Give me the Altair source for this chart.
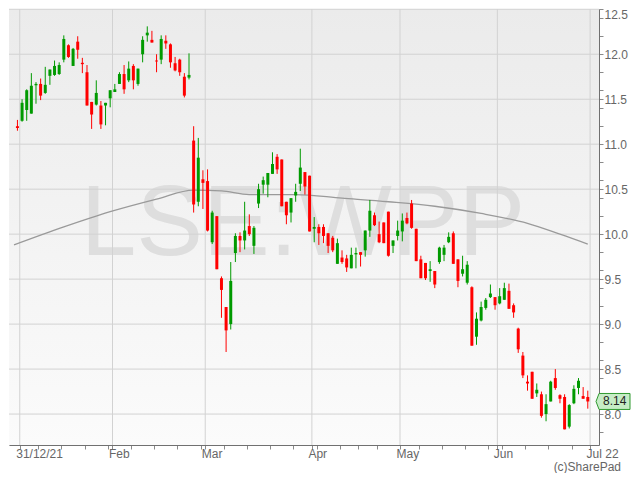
import altair as alt
import pandas as pd

# ---- data (LSE:WPP daily candles, 31/12/21 - 30/06/22) ----
opens = [11.20, 11.26, 11.38, 11.34, 11.655, 11.67, 11.57, 11.76, 11.77, 11.78,
         11.94, 12.10, 11.87, 12.14, 11.905, 11.80, 11.47, 11.44, 11.43, 11.43,
         11.51, 11.58, 11.67, 11.78, 11.71, 11.87, 11.67, 12.00, 12.21, 12.16,
         11.93, 11.94, 12.15, 12.11, 11.90, 11.94, 11.75, 11.74, 11.04, 10.36,
         10.61, 10.59, 9.91, 10.20, 9.51, 9.19, 9.00, 9.79, 9.98, 9.93,
         10.09, 9.87, 10.34, 10.55, 10.55, 10.67, 10.86, 10.83, 10.36, 10.24,
         10.43, 10.56, 10.69, 10.65, 10.06, 10.08, 10.08, 10.01, 9.96, 9.67,
         9.74, 9.73, 9.62, 9.775, 9.80, 9.82, 10.04, 10.21, 10.00, 10.13,
         10.25, 9.87, 9.98, 10.03, 10.18, 10.34, 10.06, 9.72, 9.68, 9.59,
         9.59, 9.69, 9.77, 9.91, 10.01, 9.72, 9.56, 9.46, 9.41, 8.86,
         9.04, 9.18, 9.30, 9.30, 9.23, 9.27, 9.37, 9.21, 8.95, 8.65,
         8.36, 8.47, 8.23, 8.22, 8.00, 8.14, 8.40, 8.21, 8.19, 7.86,
         8.12, 8.29, 8.20, 8.19]
highs = [11.27, 11.50, 11.61, 11.79, 11.69, 11.73, 11.86, 11.83, 11.93, 11.91,
         12.21, 12.11, 12.07, 12.20, 11.96, 11.88, 11.47, 11.71, 11.48, 11.46,
         11.60, 11.67, 11.80, 11.88, 11.92, 11.89, 11.84, 12.20, 12.31, 12.26,
         12.00, 12.21, 12.21, 12.12, 11.97, 11.95, 11.79, 12.01, 11.20, 11.07,
         10.71, 10.72, 10.26, 10.20, 9.53, 9.19, 9.69, 10.01, 10.02, 10.36,
         10.22, 10.09, 10.56, 10.64, 10.68, 10.91, 10.89, 10.83, 10.36, 10.40,
         10.56, 10.95, 10.69, 10.65, 10.19, 10.11, 10.11, 10.01, 9.98, 9.95,
         9.82, 9.77, 9.85, 9.85, 9.80, 10.04, 10.38, 10.24, 10.14, 10.13,
         10.25, 9.93, 10.15, 10.23, 10.24, 10.38, 10.06, 9.76, 9.68, 9.70,
         9.59, 9.86, 9.88, 10.02, 10.03, 9.72, 9.76, 9.70, 9.42, 9.13,
         9.25, 9.29, 9.44, 9.30, 9.40, 9.46, 9.45, 9.23, 8.96, 8.69,
         8.43, 8.47, 8.34, 8.25, 8.22, 8.37, 8.50, 8.22, 8.22, 8.11,
         8.32, 8.40, 8.30, 8.26]
lows = [11.15, 11.25, 11.26, 11.34, 11.45, 11.49, 11.56, 11.66, 11.76, 11.77,
        11.91, 11.96, 11.87, 11.95, 11.79, 11.43, 11.17, 11.43, 11.17, 11.21,
        11.41, 11.58, 11.67, 11.56, 11.69, 11.61, 11.65, 11.91, 12.14, 12.13,
        11.80, 11.89, 12.06, 11.85, 11.81, 11.76, 11.52, 11.72, 10.24, 10.31,
        10.28, 10.03, 9.89, 9.61, 9.07, 8.69, 8.94, 9.69, 9.80, 9.83,
        9.98, 9.78, 10.29, 10.45, 10.41, 10.67, 10.67, 10.31, 10.11, 10.13,
        10.36, 10.48, 10.44, 10.03, 9.91, 9.88, 9.90, 9.79, 9.80, 9.67,
        9.67, 9.58, 9.62, 9.62, 9.64, 9.75, 9.97, 10.09, 9.90, 9.90,
        9.75, 9.79, 9.93, 9.92, 10.11, 10.06, 9.70, 9.51, 9.49, 9.47,
        9.40, 9.67, 9.70, 9.90, 9.67, 9.41, 9.53, 9.44, 8.76, 8.77,
        9.03, 9.16, 9.29, 9.16, 9.22, 9.27, 9.17, 9.07, 8.68, 8.40,
        8.26, 8.17, 8.19, 7.96, 7.92, 8.14, 8.27, 8.12, 7.83, 7.84,
        8.11, 8.22, 8.17, 8.06]
closes = [11.18, 11.46, 11.60, 11.65, 11.67, 11.54, 11.66, 11.83, 11.87, 11.88,
          12.17, 11.97, 12.06, 12.05, 11.89, 11.43, 11.33, 11.57, 11.22, 11.46,
          11.60, 11.61, 11.78, 11.61, 11.84, 11.71, 11.84, 12.16, 12.24, 12.13,
          11.92, 12.17, 12.12, 11.91, 11.82, 11.80, 11.54, 11.77, 10.33, 10.85,
          10.57, 10.04, 10.24, 9.61, 9.38, 8.93, 9.48, 9.98, 9.93, 10.04,
          10.00, 10.07, 10.50, 10.60, 10.68, 10.78, 10.72, 10.31, 10.21, 10.40,
          10.47, 10.74, 10.53, 10.03, 10.08, 10.01, 9.98, 9.87, 9.82, 9.90,
          9.69, 9.63, 9.77, 9.79, 9.77, 10.04, 10.26, 10.10, 9.91, 9.90,
          9.76, 9.93, 10.04, 10.15, 10.12, 10.07, 9.70, 9.51, 9.51, 9.61,
          9.44, 9.85, 9.85, 9.97, 9.67, 9.48, 9.61, 9.66, 8.76, 9.06,
          9.19, 9.27, 9.34, 9.21, 9.31, 9.40, 9.17, 9.13, 8.72, 8.43,
          8.34, 8.17, 8.27, 7.98, 8.11, 8.36, 8.29, 8.17, 7.83, 8.10,
          8.28, 8.37, 8.17, 8.14]

# 200-day moving average, read at a few positions (first one at the left edge)
ma_idx = [-0.74, 10, 20, 30, 38, 44, 50, 60, 70, 80, 90, 100, 110, 117, 123]
ma_val = [9.88, 10.08, 10.25, 10.39, 10.49, 10.48, 10.44, 10.44, 10.40, 10.36,
          10.31, 10.23, 10.12, 10.00, 9.89]

uk_holidays = ["2022-01-03", "2022-04-15", "2022-04-18", "2022-05-02", "2022-06-02", "2022-06-03"]
month_labels = ["31/12/21", "Feb", "Mar", "Apr", "May", "Jun", "Jul 22"]
grid_levels = [8.0, 8.5, 9.0, 9.5, 10.0, 10.5, 11.0, 11.5, 12.0, 12.5]
minor_levels = [7.8, 8.0, 8.2, 8.4, 8.6, 8.8, 9.0, 9.2, 9.4, 9.6, 9.8, 10.0, 10.2,
                10.4, 10.6, 10.8, 11.0, 11.2, 11.4, 11.6, 11.8, 12.0, 12.2, 12.4]
last_price_text = "8.14"
watermark = "LSE:WPP"
credit = "(c)SharePad"

# ---- trading calendar ----
dates = [d for d in pd.bdate_range("2021-12-31", "2022-06-30")
         if d.strftime("%Y-%m-%d") not in uk_holidays]
n = len(dates)

month_bounds = [k - 0.5 for k in range(1, n) if dates[k].month != dates[k - 1].month]
month_bounds.append(n - 0.5)
week_bounds = [k - 0.5 for k in range(1, n) if dates[k].weekday() < dates[k - 1].weekday()]
x_ticks = sorted(set(month_bounds) | set(week_bounds))
y_ticks = sorted(set(grid_levels) | set(minor_levels))

candles = pd.DataFrame({
    "i": list(range(n)),
    "date": [d.strftime("%Y-%m-%d") for d in dates],
    "open": opens, "high": highs, "low": lows, "close": closes,
})
candles["blo"] = candles[["open", "close"]].min(axis=1)
candles["bhi"] = candles[["open", "close"]].max(axis=1)

ma_df = pd.DataFrame({"i": ma_idx, "ma": ma_val})
hgrid = pd.DataFrame({"v": grid_levels})
vgrid = pd.DataFrame({"b": month_bounds})
last_df = pd.DataFrame({"v": [closes[-1]], "t": [last_price_text]})
one = pd.DataFrame({"a": [0]})

# ---- layout ----
W, H = 590, 436
FONT = "Liberation Sans"
GREEN = "#009a00"
RED = "#ff0000"

xs = alt.Scale(domain=[-0.742, 124.34], nice=False, zero=False)
ys = alt.Scale(domain=[7.656, 12.503], nice=False, zero=False)

label_expr = " : ".join(
    f"datum.value == {b} ? '{lab}'" for b, lab in zip(month_bounds, month_labels)
) + " : ''"

x_axis = alt.Axis(values=x_ticks, labelExpr=label_expr, grid=False, orient="bottom",
                  tickSize=4, tickColor="#8a8a8a", domainColor="#707070",
                  labelColor="#666666", labelFont=FONT, labelFontSize=12,
                  labelAlign="left", labelOffset=-4, labelPadding=-1, labelBaseline="top",
                  labelOverlap=False, labelFlush=False, title=None)
y_axis = alt.Axis(values=y_ticks, orient="right", grid=False,
                  labelExpr="abs(datum.value * 2 - round(datum.value * 2)) < 0.001 ? format(datum.value, '.1f') : ''",
                  tickSize=4, tickColor="#8a8a8a", domainColor="#707070",
                  labelColor="#666666", labelFont=FONT, labelFontSize=12,
                  labelPadding=1, labelFlush=1, labelOverlap=False, title=None)


def X(field):
    return alt.X(field, type="quantitative", scale=xs, axis=x_axis)


def Y(field):
    return alt.Y(field, type="quantitative", scale=ys, axis=y_axis)


bg = alt.Chart(one).mark_rect(fill={
    "gradient": "linear", "x1": 0, "y1": 0, "x2": 0, "y2": 1,
    "stops": [{"offset": 0, "color": "#ebebeb"}, {"offset": 1, "color": "#fbfbfb"}]
}).encode(x=alt.value(0), x2=alt.value(W), y=alt.value(0), y2=alt.value(H))

wm = alt.Chart(one).mark_text(text=watermark, font=FONT, fontSize=100, color="#dedede",
                              align="center", baseline="alphabetic").encode(
    x=alt.value(294), y=alt.value(246))

hg = alt.Chart(hgrid).mark_rule(color="#d2d2d2", strokeWidth=1).encode(
    y=Y("v"), x=alt.value(0), x2=alt.value(W))
vg = alt.Chart(vgrid).mark_rule(color="#d2d2d2", strokeWidth=1).encode(
    x=X("b"), y=alt.value(0), y2=alt.value(H))

ma = alt.Chart(ma_df).mark_line(color="#9a9a9a", strokeWidth=1.3, interpolate="monotone").encode(
    x=X("i"), y=Y("ma"))

col = alt.condition("datum.close >= datum.open", alt.value(GREEN), alt.value(RED))

wicks = alt.Chart(candles).mark_rule(strokeWidth=1).encode(
    x=X("i"), y=Y("low"), y2="high", color=col)
bodies = alt.Chart(candles).mark_bar(size=3).encode(
    x=X("i"), y=Y("blo"), y2="bhi", color=col)

tag = alt.Chart(last_df).mark_point(
    shape="M-1,0L-0.82,-0.47L1,-0.47L1,0.47L-0.82,0.47Z", size=1156, filled=True,
    fill="#c6ecc6", stroke="#2f9a2f", strokeWidth=1, opacity=1
).encode(x=alt.value(604), y=Y("v"))
tag_text = alt.Chart(last_df).mark_text(font=FONT, fontSize=12, color="#222222",
                                        align="left", baseline="middle").encode(
    x=alt.value(594), y=Y("v"), text="t:N")

cr = alt.Chart(one).mark_text(text=credit, font=FONT, fontSize=12, color="#666666",
                              align="right", baseline="alphabetic").encode(
    x=alt.value(612), y=alt.value(462))

chart = alt.layer(bg, wm, hg, vg, ma, wicks, bodies, tag, tag_text, cr).properties(
    width=W, height=H, padding=0
).configure_view(stroke="#8c8c8c", strokeWidth=1).configure(background="#ffffff")

chart.save("out.html", embed_options={"renderer": "svg", "actions": False})
